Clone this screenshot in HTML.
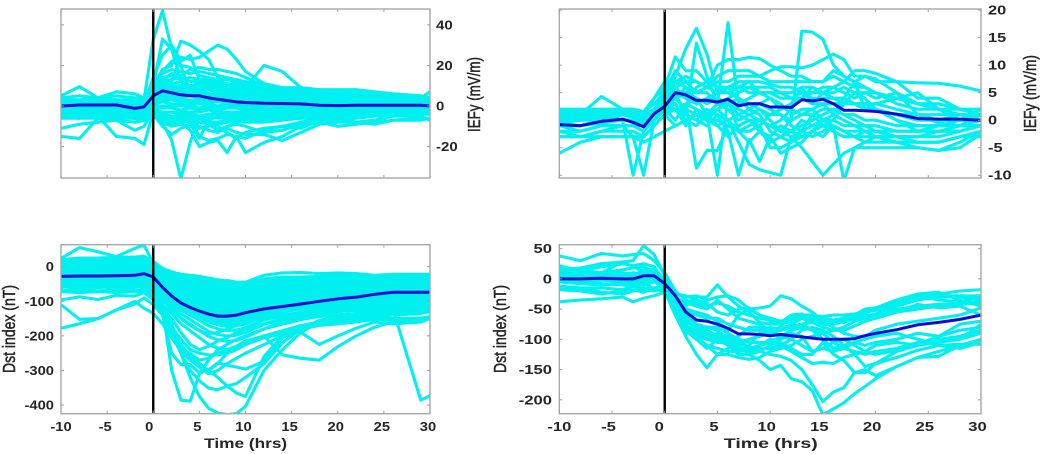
<!DOCTYPE html>
<html lang="en">
<head>
<meta charset="utf-8">
<title>IEFy and Dst index superposed epoch analysis</title>
<style>
html,body{margin:0;padding:0;background:#fff;width:1045px;height:454px;overflow:hidden}
svg{display:block;filter:blur(.35px)}
text{font-family:"Liberation Sans",sans-serif;fill:#262626}
</style>
</head>
<body>
<svg id="figure" xmlns="http://www.w3.org/2000/svg" width="1045" height="454" viewBox="0 0 1045 454"></svg>
<script>
// Time samples (hours from onset)
const hoursCoarse = [-10,-8,-6,-4,-2,-1,0,1,2,3,4,5,6,7,8,9,10,12,14,16,18,20,22,24,26,29,30];
const hoursFine = [-10,-8,-6,-4,-3,-2,-1,0,1,2,3,4,5,6,7,8,9,10,11,12,13,14,15,16,17,18,19,20,22,24,26,28,30];

// Tick labels
const xTicks = [-10,-5,0,5,10,15,20,25,30];
const iefyLeftTicks = [40,20,0,-20];
const iefyRightTicks = [20,15,10,5,0,-5,-10];
const dstLeftTicks = [0,-100,-200,-300,-400];
const dstRightTicks = [50,0,-50,-100,-150,-200];

// Top-left panel: IEFy (mV/m)
const iefyLeftMean = [0,.5,.5,.5,-1.2,-.4,5,7.5,6.5,5.5,5,5,4,3.3,2.7,2,1.7,1.3,1.2,1,.4,.2,.4,.4,.4,.4,0];
const iefyLeftEvents = [
[4,5,4,5,4,4,8,14,15,13,14,13,13,12,11,11,10,9,8,8,8,8,8,7,6,5,4],
[3,3,4,3,3,4,7,12,13,14,12,12,11,11,10,10,9,8,8,7,7,7,7,6,5,4,4],
[3,3,3,3,3,2,6,11,11,12,10,11,10,9,9,9,8,7,7,7,7,7,6,5,5,4,3],
[2,2,3,2,2,2,6,9,10,10,10,9,9,8,8,8,7,7,6,6,6,6,6,5,4,3,3],
[2,2,2,2,1,2,5,8,9,8,9,8,8,7,7,7,6,6,6,5,5,5,5,4,4,3,2],
[1,1,2,1,1,1,4,7,7,7,7,7,6,6,6,6,5,5,5,4,5,4,4,4,3,2,2],
[1,1,1,1,0,0,4,6,6,6,6,6,5,5,5,5,4,4,4,4,4,4,3,3,3,2,1],
[0,0,1,0,0,0,3,5,5,4,5,4,4,4,4,4,3,3,3,3,3,3,3,2,2,1,1],
[0,0,0,0,-1,-1,2,4,4,3,3,3,3,3,3,3,2,2,2,2,2,2,2,2,1,1,0],
[-1,-1,0,-1,-1,-1,2,3,3,2,2,2,2,2,2,2,1,1,1,1,1,1,1,1,1,0,0],
[-1,-1,-1,-1,-2,-2,1,2,1,1,1,1,1,0,1,1,0,0,0,0,0,0,0,0,0,0,-1],
[-2,-2,-1,-2,-2,-3,0,0,0,0,0,-1,0,-1,0,0,-1,-1,-1,-1,-1,-1,-1,-1,-1,-1,-1],
[-2,-3,-2,-3,-3,-3,-1,-1,-1,-2,-1,-2,-1,-2,-1,-1,-2,-2,-2,-2,-2,-2,-2,-2,-2,-1,-2],
[-3,-3,-3,-3,-4,-4,-2,-3,-3,-3,-3,-3,-2,-3,-3,-3,-3,-3,-3,-3,-3,-3,-3,-3,-2,-2,-2],
[-4,-4,-3,-4,-4,-5,-3,-4,-5,-5,-4,-5,-4,-4,-4,-4,-4,-4,-4,-4,-4,-4,-4,-3,-3,-3,-3],
[-4,-5,-5,-5,-5,-5,-4,-6,-7,-6,-6,-6,-6,-5,-5,-5,-5,-5,-5,-5,-5,-4,-4,-4,-4,-3,-3],
[-3,-4,-4,-4,-4,-4,-5,-8,-10,-9,-10,-11,-10,-9,-8,-8,-7,-7,-6,-6,-5,-5,-5,-4,-4,-3,-3],
[-2,-3,-3,-3,-3,-3,-4,-6,-8,-8,-7,-8,-8,-8,-7,-6,-6,-6,-5,-5,-5,-4,-4,-4,-3,-3,-2],
[2,2,3,2,2,3,12,16,18,17,16,17,16,15,14,13,12,10,9,9,8,7,7,6,5,4,3],
[3,3,2,3,2,3,10,17,22,20,19,15,14,13,13,12,11,9,8,8,7,7,6,5,4,4,3],
[2,2,1,2,2,3,33,47,28,12,8,8,6,5,4,4,3,3,2,2,2,1,1,1,1,1,0],
[1,1,1,1,1,2,10,33,28,20,6,10,9,7,6,5,5,4,4,3,3,2,2,2,1,1,1],
[0,0,1,0,0,1,14,25,30,22,25,13,12,10,8,7,7,6,5,5,3,3,2,2,2,1,1],
[1,2,1,2,1,2,10,18,20,32,30,27,23,14,10,9,8,6,5,5,4,3,3,2,2,1,1],
[2,1,2,1,2,1,8,14,12,24,23,24,27,30,28,23,17,11,9,8,6,5,4,4,3,2,2],
[3,3,3,3,3,3,9,13,16,15,18,19,18,18,17,16,14,10,8,7,6,6,5,4,3,3,2],
[1,1,1,1,1,1,5,10,9,10,9,10,9,9,9,9,9,20,17,9,7,6,5,4,3,3,2],
[5,9.5,4,7,6,4,7,9,8,9,9,8,8,7,7,6,6,5,5,4,4,7,7,6,5,4,7],
[-3,-3,-2,-2,-3,-2,-3,-8,-17,-36,-18,-5,-4,-4,-3,-3,-3,-3,-2,-2,-2,-2,-1,-1,-1,-1,-1],
[-4,-5,-4,-4,-5,-4,-4,-10,-14,-11,-9,-16,-7,-5,-5,-4,-4,-3,-3,-3,-2,-3,-2,-2,-2,-2,-2],
[-6,-6,-5,-6,-6,-6,-5,-7,-9,-8,-12,-20,-18,-17,-23,-15,-23,-18,-15,-10,-8,-7,-6,-5,-5,-4,-4],
[-5,-6,-6,-6,-6,-7,-4,-5,-6,-7,-6,-15,-17,-16,-14,-15,-16,-12,-10,-11,-7,-6,-5,-5,-4,-4,-3],
[-4,-4,-5,-5,-6,-5,-3,-4,-6,-7,-8,-10,-12,-13,-11,-13,-14,-14,-17,-13,-9,-8,-8,-9,-7,-6,-6],
[-15,-16,-6,-7,-8,-7,-4,-5,-5,-6,-7,-8,-9,-12,-10,-9,-10,-13,-12,-9,-8,-10,-9,-8,-7,-7,-6],
[-5,-5,-5,-15,-16,-19,-3,-4,-5,-5,-5,-5,-5,-6,-6,-7,-8,-8,-7,-6,-6,-5,-4,-4,-4,-3,-3],
[-11,-9,-8,-7,-12,-10,-2,-3,-3,-4,-5,-6,-8,-10,-13,-16,-13,-11,-10,-8,-6,-6,-8,-7,-5,-5,-7]
];

// Top-right panel: IEFy (mV/m)
const iefyRightMean = [-.8,-1,-.2,.2,-.4,-1.2,1.2,2.5,5,4.6,3.6,3.6,3.3,3.8,2.6,3,3,2.4,2.4,2.3,3.7,3.5,3.8,3,1.8,1.8,1.7,1.6,1.1,.3,.2,.2,0];
const iefyRightEvents = [
[1,1,1,1,1,.5,1,3,8,13,16.7,12,5,6,7,7,7,6.5,6,6,5,5,5,4,4,3,3,3,2,1,1,1,1],
[0,0,1,1,.5,0,1,4,5,1,14,8,3,4,5,6,6,6,5,4,5,4,4,4,3,3,2,2,1,0,0,1,1],
[1.5,1,1,1,1.5,1,2,5,9,7,5,5,3,17.7,3,4,5,5,5,5,6,6,5,5,6,5,5,5,3,2,2,1,1],
[2,1.5,2,2,2,1,4,6,11.5,9,9,7,6,6,6,5,5,5,4,4,4,3,3,3,3,3,2,2,1,1,0,0,0],
[.5,.5,1,2,2,1.5,3,5,7,6,5,6,10,11,11,11.4,11.2,10,9,8,8,7,7,8,7,6,6,5,4,3,3,2,2],
[-1,-1,0,0,0,-1,0,2,5,5,4,1,3,2,0,1,2,0,-2,0,16.2,16,14.7,10,8,7,6,5,4,3,2,1,0],
[0,0,.5,1,1,.5,2,4,7,8,7,6,8,9,9,9,8,9,9.7,9.7,9.5,10,11,12,11,8,8,7.5,5,3,2,2,1],
[2,2,2,1.5,2,1.5,4,7,6,7,7,6,7,7,8,8,8,7,7,7,7,7,7,9,8,7,8,7,7,6.8,6.7,6.2,5.3],
[-.5,0,1,1,1,0,2,5,6,4,3,4,5,6,6,6,5,5,5,4,4,5,6,6,7,9,9,8.5,7,4,4,2,1],
[-1,-1,-.5,0,-10,-2,2,3,4,2,1,0,2,3,4,3,3,2,1,0,1,1,2,2,1,1,0,0,-1,-1,-1,-1,-1],
[-2,-2,-1,-1,-3,-10,0,3,2,1,0,2,1,0,-2,-2,-1,1,1,-1,-2,-1,0,0,-1,-1,-1,-2,-2,-2,-1,-1,0],
[-6,-4,-3,-3,-3,-4,-3,-2,-1,0,1,0,0,-1,-1,0,0,-1,-2,-2,-3,-2,-1,-1,-2,-2,-2,-2,-3,-4,-4,-3,-3],
[2,1,4.3,2,2,1,2,3,6,8,7,6,5,5,4,3,2,1,2,3,4,6,5,4,4,3,3,2,0,-1,-1,0,2],
[-2,-3,-2,-1,-1,-2,0,2,0,3,-8.7,-5.5,-5.5,-1,-2,-1,0,-1,0,2,1,2,3,1,0,-1,-2,-3,-4,-4,-4,-3,-2],
[-3,-3,-3,-3,-3,-3,-1,1,-1,0,1,1,-10,4,-2,-4,-2,-4,-3,-2,-1,0,1,2,1,0,-1,-1,-2,-2,-2,-1,-1],
[-1,-2,-1,-1,-1,-2,0,2,3,1,0,-1,1,-2,-10,-3.5,-7.5,-3,-1,-2,0,-1,-1,-2,-3,-3,-4,-4,-4,-4,-4,-3,-2],
[-2,-2,-1,-1,-1,-1,1,2,2,3,2,1,2,0,-4,-8,-9,-9.5,-10,-3,-2,-3,-2,-1,-2,-3,-3,-3,-3,-3,-3,-2,-1],
[-.5,-1,0,0,0,-.5,1,3,4,5,4,3,4,3,2,1,0,-1,-2,-3,-5,-7.5,-10,-8,-6,-5,-5,-5,-5,-5,-5.5,-4,-2],
[1,1,1.5,1,1,0,2,4,5,4,3,4,3,3,1,0,-2,-3,-6,-5,-4,-2,0,-1,-11,-5,-4,-3,-3,-3,-2,-2,-1],
[-3,-3,-2,-2,-2,-3,-1,1,2,-1,2,0,-1,-3,-1,0,-1,-5,-5,-4,-3,-2,-3,-1,-2,-3,-2,-3,-4,-5,-5.5,-5,-2.5],
[0,0,0,1,1,-1,1,3,3,0,-1,1,-1,0,1,2,1,-2,-3,-4,-2,1,-1,0,3,5,4,2,0,-2,-2,-2,-1],
[1,.5,1,1,.5,-.5,1,2,4,6,3,4,5,6,4,2,3,4,3,1,2,2,0,1,4,7,2,3,4,5,2,0,0],
[.5,0,1,0,0,0,2,6,4,2,6,7,6,5,6,7,5,4,2,3,6,3,5,6,5,4,5,4,5,1,-.5,-1,1]
];

// Bottom-left panel: Dst index (nT)
const dstLeftMean = [-28,-27,-27,-26,-25,-20,-30,-60,-85,-105,-118,-128,-137,-143,-143,-140,-133,-122,-115,-108,-100,-93,-88,-80,-74,-74,-74];
const dstLeftEvents = [
[20,25,25,27,28,30,15,-5,-15,-22,-25,-28,-33,-38,-42,-48,-50,-35,-30,-30,-28,-25,-28,-28,-25,-25,-24],
[17,22,22,24,25,27,12,-8,-18,-26,-30,-33,-39,-44,-48,-53,-55,-40,-34,-34,-32,-29,-31,-31,-28,-28,-27],
[15,19,19,21,22,24,9,-11,-22,-31,-35,-39,-45,-50,-54,-59,-60,-45,-39,-38,-36,-33,-35,-35,-32,-32,-30],
[12,16,16,18,19,21,6,-14,-25,-35,-39,-44,-50,-56,-60,-64,-65,-50,-44,-42,-40,-37,-39,-38,-35,-35,-33],
[9,14,13,15,16,18,4,-18,-29,-39,-44,-49,-56,-62,-66,-70,-71,-55,-49,-47,-44,-41,-43,-42,-39,-38,-37],
[6,11,10,12,13,15,1,-21,-33,-43,-49,-54,-62,-67,-72,-76,-76,-60,-53,-51,-48,-44,-46,-45,-42,-41,-40],
[4,8,8,10,11,12,-2,-24,-37,-48,-54,-60,-68,-73,-78,-82,-82,-65,-58,-55,-52,-48,-50,-49,-46,-45,-43],
[1,5,5,7,8,9,-5,-27,-40,-52,-58,-65,-73,-79,-84,-87,-87,-70,-62,-59,-56,-52,-53,-52,-49,-48,-46],
[-2,2,2,4,5,6,-8,-30,-44,-56,-63,-70,-79,-85,-90,-93,-92,-75,-67,-64,-60,-56,-57,-56,-53,-51,-50],
[-4,0,-1,1,2,3,-10,-33,-47,-60,-68,-75,-85,-91,-95,-98,-97,-80,-71,-68,-64,-60,-61,-59,-56,-54,-53],
[-7,-3,-4,-2,-1,0,-13,-37,-51,-65,-73,-81,-91,-97,-101,-104,-103,-85,-76,-72,-68,-64,-65,-63,-60,-58,-56],
[-9,-6,-7,-5,-4,-3,-16,-40,-54,-69,-78,-86,-96,-103,-107,-109,-108,-89,-81,-76,-72,-68,-68,-66,-63,-61,-59],
[-12,-9,-10,-8,-7,-6,-19,-43,-58,-73,-83,-92,-102,-109,-113,-115,-113,-94,-86,-80,-76,-72,-72,-70,-66,-65,-62],
[-15,-12,-13,-11,-9,-9,-22,-46,-61,-77,-87,-97,-108,-115,-119,-121,-118,-99,-90,-84,-79,-76,-75,-73,-69,-68,-65],
[-18,-15,-16,-14,-12,-12,-25,-49,-65,-82,-92,-102,-114,-121,-125,-127,-124,-104,-95,-89,-83,-80,-79,-77,-73,-71,-69],
[-20,-18,-19,-17,-15,-15,-28,-52,-69,-86,-97,-107,-119,-127,-131,-132,-129,-109,-99,-93,-87,-83,-82,-80,-76,-74,-72],
[-23,-21,-22,-20,-18,-18,-31,-55,-73,-91,-102,-113,-125,-133,-137,-138,-134,-114,-104,-97,-91,-87,-86,-84,-80,-78,-75],
[-26,-23,-24,-22,-21,-21,-33,-58,-76,-95,-106,-118,-131,-138,-143,-143,-139,-119,-109,-101,-95,-91,-90,-87,-83,-81,-78],
[-29,-26,-27,-25,-24,-24,-36,-62,-80,-99,-111,-124,-137,-144,-149,-149,-145,-124,-114,-106,-99,-95,-94,-91,-87,-84,-81],
[-31,-29,-30,-28,-27,-27,-39,-65,-83,-103,-116,-129,-142,-150,-155,-154,-150,-129,-118,-110,-103,-99,-97,-94,-90,-87,-84],
[-34,-32,-33,-31,-30,-30,-42,-68,-87,-108,-121,-134,-148,-156,-161,-160,-155,-134,-123,-114,-107,-103,-101,-98,-94,-91,-88],
[-36,-35,-36,-34,-32,-33,-45,-71,-90,-112,-126,-140,-154,-162,-167,-165,-160,-139,-127,-118,-111,-107,-104,-101,-97,-94,-91],
[-39,-38,-39,-37,-35,-36,-48,-74,-94,-116,-131,-145,-160,-168,-173,-171,-166,-144,-132,-122,-115,-111,-108,-105,-101,-98,-94],
[-45,-43,-45,-43,-41,-42,-53,-81,-101,-125,-140,-155,-171,-180,-185,-183,-176,-154,-142,-131,-123,-119,-116,-112,-108,-104,-100],
[-52,-51,-53,-51,-49,-50,-61,-89,-111,-136,-153,-170,-187,-196,-200,-198,-190,-167,-154,-142,-134,-129,-126,-122,-117,-113,-109],
[-59,-59,-60,-58,-56,-58,-69,-97,-121,-148,-166,-184,-202,-211,-216,-213,-204,-180,-166,-153,-144,-139,-135,-131,-126,-122,-117],
[-70,-70,-72,-70,-68,-70,-80,-110,-135,-165,-185,-205,-225,-235,-240,-235,-225,-200,-185,-170,-160,-155,-150,-145,-140,-135,-130],
[-178,-165,-150,-125,-108,-90,-110,-140,-175,-210,-240,-250,-255,-255,-250,-240,-225,-205,-190,-175,-165,-160,-155,-150,-150,-148,-145],
[-110,-152,-150,-125,-100,-120,-135,-165,-205,-245,-270,-290,-310,-300,-280,-265,-250,-225,-200,-180,-170,-165,-160,-152,-155,-150,-150],
[24,55,43,29,53,62,10,-15,-30,-40,-48,-50,-40,-45,-40,-45,-45,-25,-18,-17,-20,-18,-20,-25,-22,-22,-22],
[-96,-87,-95,-83,-85,-75,-90,-120,-150,-190,-225,-240,-230,-215,-205,-190,-180,-165,-150,-135,-125,-118,-115,-118,-125,-122,-120],
[-20,-20,-25,-25,-20,-30,-60,-120,-300,-386,-389,-310,-270,-240,-225,-210,-200,-180,-160,-150,-140,-130,-125,-120,-115,-110,-110],
[-35,-30,-30,-40,-35,-30,-60,-110,-165,-250,-320,-375,-409,-423,-428,-425,-404,-300,-240,-190,-160,-150,-140,-130,-125,-120,-115],
[-45,-45,-40,-50,-45,-45,-70,-110,-190,-250,-300,-330,-351,-356,-345,-338,-320,-280,-220,-180,-155,-145,-135,-125,-120,-115,-110],
[-60,-55,-60,-55,-55,-60,-75,-120,-200,-230,-260,-280,-300,-320,-345,-365,-375,-260,-200,-175,-165,-150,-140,-135,-130,-125,-122],
[-55,-60,-55,-60,-60,-55,-85,-140,-250,-283,-283,-307,-298,-278,-285,-290,-296,-274,-205,-180,-160,-150,-145,-140,-135,-130,-130],
[-70,-65,-70,-65,-70,-65,-80,-125,-195,-240,-250,-270,-265,-250,-240,-230,-215,-200,-255,-265,-270,-231,-200,-175,-160,-152,-150],
[-72,-75,-72,-75,-72,-75,-95,-140,-190,-225,-260,-285,-300,-280,-250,-230,-220,-205,-195,-190,-225,-200,-178,-160,-165,-160,-150],
[-40,-35,-40,-35,-40,-40,-65,-95,-125,-150,-170,-185,-195,-190,-180,-170,-160,-150,-140,-135,-130,-125,-120,-125,-125,-386,-373]
];

// Bottom-right panel: Dst index (nT)
const dstRightMean = [0,0,1,0,0,5,5,-8,-28,-55,-68,-70,-75,-82,-91,-91,-92,-94,-92,-94,-96,-98,-100,-100,-100,-99,-94,-90,-84,-76,-72,-67,-60];
const dstRightEvents = [
[38,30,42,38,40,42,30,10,-20,-35,-40,-45,-40,-45,-55,-60,-65,-68,-70,-65,-62,-62,-62,-60,-60,-58,-55,-50,-40,-30,-25,-20,-18],
[22,12,10,28,30,55,40,5,-25,-30,-28,-35,-30,-28,-35,-50,-60,-65,-70,-68,-65,-65,-70,-70,-72,-65,-62,-58,-45,-35,-30,-30,-35],
[12,14,20,25,22,25,20,-5,-30,-45,-30,-30,-10,-30,-45,-55,-72,-75,-75,-70,-60,-60,-65,-68,-65,-60,-55,-52,-45,-25,-28,-28,-28],
[-38,-35,-33,-30,-38,-32,-28,-22,-45,-75,-95,-110,-125,-125,-130,-133,-130,-120,-115,-110,-100,-95,-90,-85,-85,-78,-70,-65,-55,-50,-45,-42,-40],
[-18,-20,-25,-20,-18,-22,-15,-15,-60,-95,-125,-147,-125,-115,-105,-100,-95,-90,-85,-80,-75,-72,-75,-75,-70,-65,-60,-60,-50,-45,-42,-40,-38],
[5,5,8,10,5,12,15,-8,-35,-50,-55,-60,-70,-85,-60,-50,-48,-45,-28,-33,-45,-55,-70,-80,-90,-95,-95,-85,-75,-70,-65,-60,-48],
[10,8,5,8,10,8,0,-15,-50,-85,-100,-115,-100,-100,-110,-125,-135,-150,-143,-165,-170,-185,-225,-215,-205,-190,-178,-165,-145,-130,-120,-110,-105],
[-5,-8,-10,-8,-5,-8,-5,-15,-45,-80,-95,-100,-105,-105,-100,-115,-120,-125,-128,-135,-150,-175,-203,-187,-180,-155,-150,-160,-145,-130,-128,-110,-100],
[-12,-15,-15,-18,-12,-10,-5,-10,-45,-80,-100,-110,-115,-120,-120,-118,-110,-105,-110,-120,-130,-140,-138,-140,-130,-125,-145,-140,-130,-118,-110,-108,-108],
[-2,-5,-2,-5,-2,0,2,-8,-40,-75,-90,-95,-90,-95,-105,-115,-110,-100,-105,-115,-125,-125,-105,-125,-135,-155,-155,-140,-120,-110,-105,-100,-90],
[3,2,5,2,5,10,8,-5,-35,-60,-75,-80,-80,-90,-100,-105,-105,-105,-95,-85,-80,-85,-90,-105,-115,-120,-125,-120,-115,-105,-100,-95,-85],
[20,15,10,15,18,20,12,0,-30,-40,-45,-50,-35,-50,-65,-70,-75,-85,-85,-80,-75,-70,-70,-72,-68,-60,-55,-50,-35,-28,-35,-38,-30],
[-15,-15,-22,-25,-20,-15,-15,-12,-50,-90,-85,-80,-85,-100,-115,-120,-115,-115,-110,-100,-85,-80,-85,-95,-110,-125,-120,-110,-105,-110,-100,-100,-75],
[8,5,10,5,3,-3,-5,-12,-38,-70,-80,-85,-95,-105,-120,-110,-90,-85,-80,-78,-75,-85,-100,-115,-110,-105,-100,-95,-90,-100,-110,-115,-105],
[0,-2,0,-3,-8,-5,-18,-20,-60,-85,-100,-95,-100,-110,-125,-125,-120,-110,-100,-90,-95,-120,-115,-105,-100,-110,-120,-125,-118,-108,-95,-85,-80],
[16,18,25,28,20,12,10,-3,-25,-28,-35,-40,-55,-60,-50,-48,-60,-70,-72,-60,-58,-68,-78,-70,-70,-60,-50,-48,-35,-25,-22,-35,-45],
[-5,2,0,5,5,15,15,-5,-32,-55,-60,-65,-65,-75,-80,-85,-85,-80,-85,-75,-65,-72,-80,-85,-80,-70,-65,-60,-55,-42,-48,-45,-60],
[6,0,-8,-10,-12,-18,-20,-15,-50,-65,-85,-90,-95,-100,-95,-80,-80,-85,-95,-100,-110,-120,-115,-120,-115,-105,-110,-105,-100,-90,-95,-75,-70]
];

const SVGNS = 'http://www.w3.org/2000/svg';
const figure = document.getElementById('figure');

function make(parent, tag, attrs) {
  const el = document.createElementNS(SVGNS, tag);
  for (const k in attrs) el.setAttribute(k, attrs[k]);
  parent.appendChild(el);
  return el;
}

function drawPanel(p) {
  const xScale = t => p.left + (t - (-10)) / 40 * (p.right - p.left);
  const yScale = v => p.bottom - (v - p.yMin) / (p.yMax - p.yMin) * (p.bottom - p.top);

  const g = make(figure, 'g', {});
  
  

  const clip = make(g, 'clipPath', { id: p.name + '-clip' });
  make(clip, 'rect', { x: p.left, y: p.top, width: p.right - p.left, height: p.bottom - p.top });

  const plot = make(g, 'g', { 'clip-path': 'url(#' + p.name + '-clip)' });
  
  

  const toPoints = (vals) => vals.map((v, i) => xScale(p.hours[i]).toFixed(1) + ',' + yScale(v).toFixed(1)).join(' ');

  p.events.forEach((vals) => {
    const line = make(plot, 'polyline', { points: toPoints(vals), fill: 'none', stroke: '#00f0f0', 'stroke-width': 3.1, 'stroke-linejoin': 'round' });
    
    
  });

  const mean = make(plot, 'polyline', { points: toPoints(p.mean), fill: 'none', stroke: '#0c0cd4', 'stroke-width': 3, 'stroke-linejoin': 'round' });
  
  

  const onset = make(g, 'line', { x1: xScale(0), x2: xScale(0), y1: p.top, y2: p.bottom, stroke: '#000', 'stroke-width': 2.4 });
  
  

  const box = make(g, 'rect', { x: p.left, y: p.top, width: p.right - p.left, height: p.bottom - p.top, fill: 'none', stroke: '#a8a8a8', 'stroke-width': 1.4 });
  
  

  xTicks.forEach((t) => {
    const x = xScale(t);
    const tickB = make(g, 'line', { x1: x, x2: x, y1: p.bottom, y2: p.bottom - 3, stroke: '#a0a0a0', 'stroke-width': 1 });
    
    
    const tickT = make(g, 'line', { x1: x, x2: x, y1: p.top, y2: p.top + 3, stroke: '#a0a0a0', 'stroke-width': 1 });
    
    
    if (p.showX) {
      const dx = t === -10 ? 0 : (t === 0 ? p.labelShift - 2 : p.labelShift);
      const lab = make(g, 'text', { transform: 'translate(' + (x + dx) + ',431) scale(' + p.tickStretch + ',1)', 'text-anchor': 'middle', 'font-size': 12.5, 'font-weight': 'bold' });
      lab.textContent = t;
      
      
    }
  });

  p.yTicks.forEach((v) => {
    const y = yScale(v);
    const tickL = make(g, 'line', { x1: p.left, x2: p.left + 3, y1: y, y2: y, stroke: '#a0a0a0', 'stroke-width': 1 });
    
    
    const tickR = make(g, 'line', { x1: p.right, x2: p.right - 3, y1: y, y2: y, stroke: '#a0a0a0', 'stroke-width': 1 });
    
    
    const lab = make(g, 'text', { transform: 'translate(' + p.yLabelX + ',' + (y + 4.5) + ') scale(' + p.tickStretch + ',1)', 'text-anchor': p.yLabelAnchor, 'font-size': 12.5, 'font-weight': 'bold' });
    lab.textContent = v;
    
    
  });

  const yTitle = make(g, 'text', { transform: 'translate(' + p.yTitleX + ',' + p.yTitleMid + ') rotate(-90)', 'text-anchor': 'middle', 'font-size': 17.5, textLength: p.yTitleLen, lengthAdjust: 'spacingAndGlyphs', stroke: '#262626', 'stroke-width': .5 });
  yTitle.textContent = p.yTitle;
  
  

  if (p.showX) {
    const xTitle = make(g, 'text', { x: p.xTitleMid, y: 448, 'text-anchor': 'middle', 'font-size': 14, 'font-weight': 'bold', textLength: p.xTitleLen, lengthAdjust: 'spacingAndGlyphs' });
    xTitle.textContent = 'Time (hrs)';
    
    
  }
}

drawPanel({ name: 'iefy-left-panel', left: 61, right: 430, top: 9, bottom: 178, yMin: -35.5, yMax: 47.8, hours: hoursCoarse, events: iefyLeftEvents, mean: iefyLeftMean, yTicks: iefyLeftTicks, showX: false, tickStretch: 1.2, labelShift: 0, yLabelX: 436, yLabelAnchor: 'start', yTitle: 'IEFy (mV/m)', yTitleX: 480, yTitleMid: 94.5, yTitleLen: 75 });
drawPanel({ name: 'iefy-right-panel', left: 559.3, right: 981, top: 9, bottom: 178, yMin: -10.5, yMax: 20.2, hours: hoursFine, events: iefyRightEvents, mean: iefyRightMean, yTicks: iefyRightTicks, showX: false, tickStretch: 1.31, labelShift: 0, yLabelX: 988, yLabelAnchor: 'start', yTitle: 'IEFy (mV/m)', yTitleX: 1036, yTitleMid: 93.5, yTitleLen: 77 });
drawPanel({ name: 'dst-left-panel', left: 61, right: 430, top: 244.7, bottom: 413.7, yMin: -425, yMax: 63.5, hours: hoursCoarse, events: dstLeftEvents, mean: dstLeftMean, yTicks: dstLeftTicks, showX: true, tickStretch: 1.18, labelShift: -2, yLabelX: 54, yLabelAnchor: 'end', yTitle: 'Dst index (nT)', yTitleX: 15, yTitleMid: 329, yTitleLen: 88, xTitleMid: 245.7, xTitleLen: 83 });
drawPanel({ name: 'dst-right-panel', left: 559.3, right: 981, top: 244.7, bottom: 413.7, yMin: -223, yMax: 56.5, hours: hoursFine, events: dstRightEvents, mean: dstRightMean, yTicks: dstRightTicks, showX: true, tickStretch: 1.33, labelShift: -3.5, yLabelX: 552, yLabelAnchor: 'end', yTitle: 'Dst index (nT)', yTitleX: 506, yTitleMid: 329, yTitleLen: 88, xTitleMid: 770.8, xTitleLen: 94 });
</script>
</body>
</html>
